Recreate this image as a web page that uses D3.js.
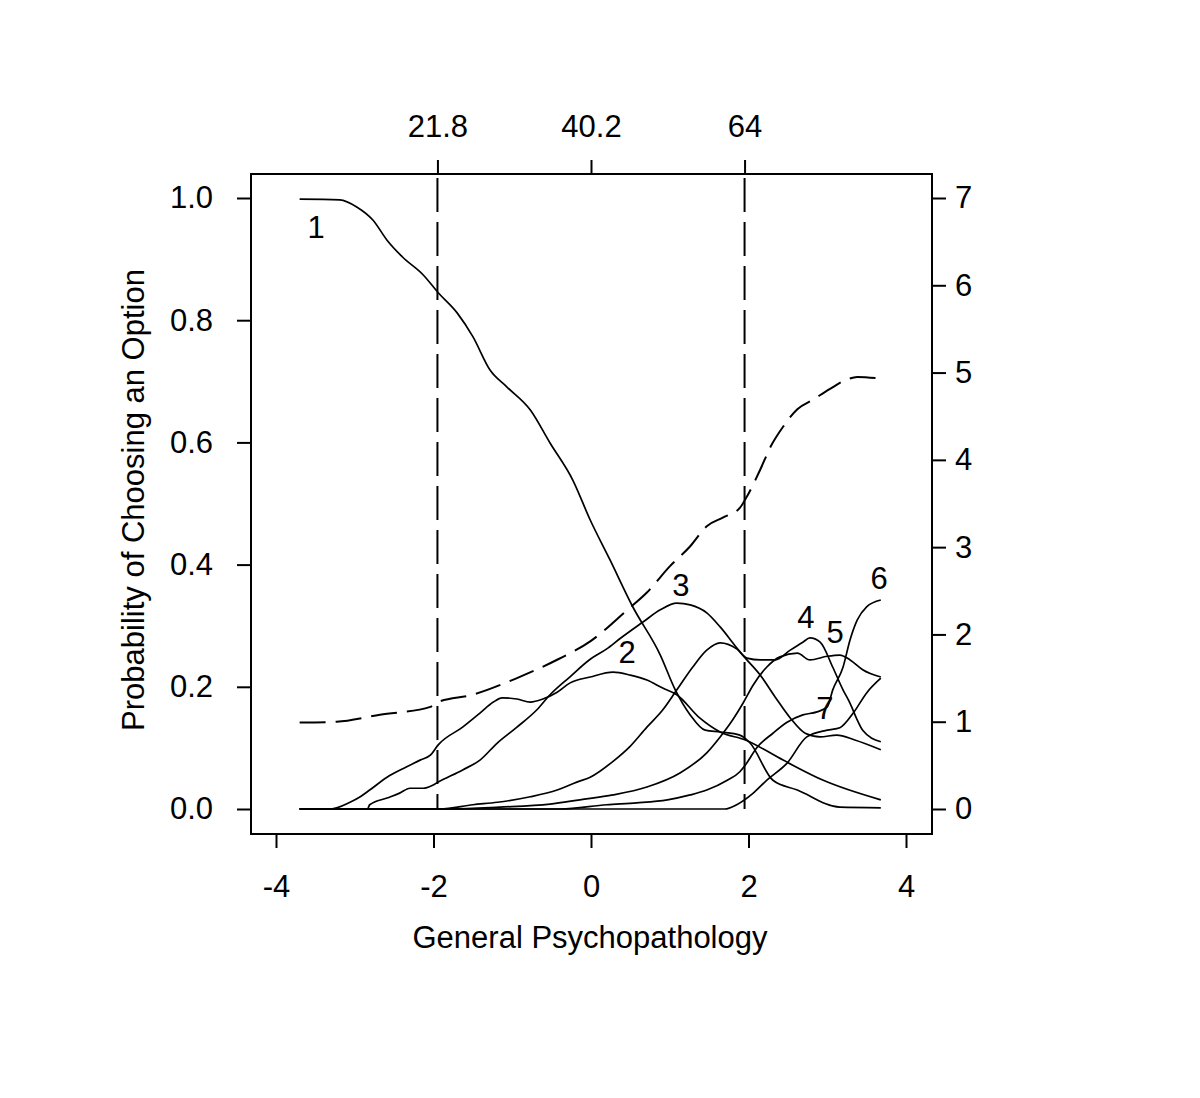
<!DOCTYPE html>
<html>
<head>
<meta charset="utf-8">
<script src="https://cdn.jsdelivr.net/npm/d3@7"></script>
<style>
  body { margin: 0; background: #fff; }
  svg text { font-family: "Liberation Sans", Arial, sans-serif; fill: #000; }
</style>
</head>
<body>
<div id="viz"></div>
<script>
// option characteristic curves, [theta, probability]
var option1 = [[-3.70,0.998],[-3.19,0.997],[-2.97,0.985],[-2.77,0.964],[-2.59,0.931],[-2.39,0.903],[-2.13,0.874],[-1.94,0.845],[-1.70,0.812],[-1.50,0.773],[-1.28,0.718],[-1.07,0.691],[-0.77,0.653],[-0.52,0.599],[-0.23,0.538],[-0.01,0.473],[0.24,0.408],[0.53,0.331],[0.88,0.252],[1.07,0.195],[1.26,0.154],[1.45,0.129],[1.64,0.126],[1.89,0.121],[2.02,0.108],[2.31,0.047],[2.62,0.031],[3.16,0.003],[3.68,0.002]];
var option2 = [[-3.70,0],[-3.31,0],[-3.06,0.011],[-2.93,0.020],[-2.81,0.031],[-2.59,0.052],[-2.34,0.069],[-2.17,0.080],[-2.04,0.088],[-1.94,0.105],[-1.63,0.134],[-1.41,0.157],[-1.24,0.175],[-1.13,0.182],[-0.94,0.180],[-0.77,0.175],[-0.61,0.180],[-0.43,0.191],[-0.27,0.206],[-0.01,0.216],[0.28,0.224],[0.50,0.219],[0.71,0.211],[0.91,0.198],[1.09,0.187],[1.38,0.149],[1.64,0.126],[1.96,0.113],[2.44,0.080],[2.95,0.047],[3.68,0.015]];
var option3 = [[-3.70,0],[-2.84,0],[-2.81,0.007],[-2.59,0.018],[-2.43,0.026],[-2.30,0.034],[-2.13,0.034],[-2.01,0.039],[-1.94,0.044],[-1.63,0.064],[-1.41,0.080],[-1.19,0.108],[-0.94,0.134],[-0.69,0.162],[-0.52,0.187],[-0.27,0.216],[-0.01,0.245],[0.20,0.262],[0.37,0.279],[0.66,0.306],[0.88,0.326],[1.09,0.337],[1.26,0.334],[1.47,0.321],[1.64,0.298],[1.85,0.264],[1.96,0.247],[2.15,0.219],[2.34,0.183],[2.53,0.149],[2.72,0.124],[2.91,0.118],[3.12,0.121],[3.35,0.113],[3.68,0.097]];
var option4 = [[-3.70,0],[-1.92,0],[-1.50,0.007],[-1.19,0.011],[-0.77,0.020],[-0.43,0.031],[-0.18,0.044],[-0.01,0.052],[0.28,0.078],[0.50,0.103],[0.71,0.134],[0.91,0.162],[1.09,0.195],[1.29,0.232],[1.47,0.260],[1.64,0.272],[1.85,0.262],[1.98,0.247],[2.15,0.244],[2.34,0.244],[2.53,0.260],[2.69,0.273],[2.78,0.280],[2.91,0.273],[3.07,0.232],[3.20,0.195],[3.29,0.173],[3.38,0.146],[3.45,0.129],[3.68,0.110]];
var option5 = [[-3.70,0],[-1.79,0],[-1.16,0.003],[-0.52,0.008],[-0.14,0.015],[0.28,0.023],[0.71,0.036],[1.13,0.059],[1.47,0.092],[1.64,0.118],[1.80,0.146],[1.93,0.173],[2.06,0.203],[2.23,0.232],[2.40,0.249],[2.62,0.255],[2.78,0.244],[3.00,0.250],[3.16,0.252],[3.29,0.244],[3.45,0.228],[3.68,0.216]];
var option6 = [[-3.70,0],[-0.39,0],[0.20,0.007],[0.58,0.010],[0.97,0.015],[1.26,0.023],[1.47,0.031],[1.73,0.047],[1.89,0.061],[1.96,0.072],[2.11,0.101],[2.31,0.124],[2.49,0.142],[2.69,0.154],[2.87,0.159],[3.00,0.167],[3.07,0.195],[3.20,0.232],[3.29,0.277],[3.38,0.309],[3.50,0.331],[3.68,0.342]];
var option7 = [[-3.70,0],[1.70,0],[1.85,0.007],[2.06,0.026],[2.23,0.047],[2.49,0.075],[2.74,0.118],[3.00,0.129],[3.16,0.133],[3.33,0.157],[3.50,0.190],[3.68,0.214]];
var options = [option1, option2, option3, option4, option5, option6, option7];

// expected score (right axis, 0-7)
var expected = [[-3.70,0.99],[-3.23,1.00],[-2.68,1.08],[-2.04,1.17],[-1.96,1.22],[-1.50,1.31],[-0.94,1.50],[-0.43,1.71],[-0.01,1.92],[0.46,2.28],[0.71,2.48],[1.00,2.78],[1.26,3.01],[1.47,3.24],[1.68,3.34],[1.89,3.45],[1.98,3.58],[2.15,3.89],[2.28,4.15],[2.44,4.38],[2.62,4.58],[2.82,4.69],[3.03,4.81],[3.25,4.92],[3.38,4.95],[3.68,4.93]];

// curve labels [theta, prob, text]
var curveLabels = [[-3.49,0.953,"1"],[0.46,0.257,"2"],[1.14,0.367,"3"],[2.73,0.314,"4"],[3.10,0.290,"5"],[3.66,0.378,"6"],[2.97,0.165,"7"]];

var xTicks = [-4, -2, 0, 2, 4];
var yTicks = [0, 0.2, 0.4, 0.6, 0.8, 1.0];
var rightTicks = [0, 1, 2, 3, 4, 5, 6, 7];
var topTicks = [-1.95, 0, 1.95];
var topTickLabels = ["21.8", "40.2", "64"];
var cutLines = [-1.95, 1.95];

var width = 1200, height = 1098;
var box = {left: 251, right: 932, top: 174, bottom: 834};
var tick = 14;
var fontSize = "31px";

var svg = d3.select("#viz").append("svg")
  .attr("width", width)
  .attr("height", height);

var x = d3.scaleLinear().domain([-4, 4]).range([276, 906]);
var y = d3.scaleLinear().domain([0, 1]).range([809, 198]);
var yR = d3.scaleLinear().domain([0, 7]).range([809, 198]);

// plain hyphen for negatives, like the original
function plain(d) { return String(d); }

// bottom axis
svg.append("g")
  .attr("transform", "translate(0," + box.bottom + ")")
  .call(d3.axisBottom(x).tickValues(xTicks).tickSize(tick).tickPadding(27).tickFormat(plain))
  .call(function(g) { g.select(".domain").remove(); });

// left axis
svg.append("g")
  .attr("transform", "translate(" + box.left + ",0)")
  .call(d3.axisLeft(y).tickValues(yTicks).tickSize(tick).tickPadding(24).tickFormat(d3.format(".1f")))
  .call(function(g) { g.select(".domain").remove(); });

// right axis
svg.append("g")
  .attr("transform", "translate(" + box.right + ",0)")
  .call(d3.axisRight(yR).tickValues(rightTicks).tickSize(tick).tickPadding(9).tickFormat(plain))
  .call(function(g) { g.select(".domain").remove(); });

// top axis (raw score)
svg.append("g")
  .attr("transform", "translate(0," + box.top + ")")
  .call(d3.axisTop(x).tickValues(topTicks).tickSize(tick).tickPadding(23)
    .tickFormat(function(d, i) { return topTickLabels[i]; }))
  .call(function(g) { g.select(".domain").remove(); });

svg.selectAll(".tick line").attr("stroke", "#000").attr("stroke-width", 2);
svg.selectAll(".tick text").style("font-size", fontSize);

// box
svg.append("rect")
  .attr("x", box.left).attr("y", box.top)
  .attr("width", box.right - box.left).attr("height", box.bottom - box.top)
  .attr("fill", "none").attr("stroke", "#000").attr("stroke-width", 2);

// vertical dashed cut lines
svg.selectAll(".cut")
  .data(cutLines)
  .enter().append("line")
  .attr("class", "cut")
  .attr("x1", function(d) { return x(d); })
  .attr("x2", function(d) { return x(d); })
  .attr("y1", box.top + 4)
  .attr("y2", y(0))
  .attr("stroke", "#000").attr("stroke-width", 2)
  .attr("stroke-dasharray", "34,10");

var line = d3.line()
  .x(function(d) { return x(d[0]); })
  .y(function(d) { return y(d[1]); })
  .curve(d3.curveMonotoneX);

svg.selectAll(".opt")
  .data(options)
  .enter().append("path")
  .attr("class", "opt")
  .attr("d", line)
  .attr("fill", "none")
  .attr("stroke", "#000")
  .attr("stroke-width", 1.7);

var lineR = d3.line()
  .x(function(d) { return x(d[0]); })
  .y(function(d) { return yR(d[1]); })
  .curve(d3.curveMonotoneX);

svg.append("path")
  .datum(expected)
  .attr("d", lineR)
  .attr("fill", "none")
  .attr("stroke", "#000")
  .attr("stroke-width", 2)
  .attr("stroke-dasharray", "26,10");

// curve numbers
svg.selectAll(".lab")
  .data(curveLabels)
  .enter().append("text")
  .attr("class", "lab")
  .attr("x", function(d) { return x(d[0]); })
  .attr("y", function(d) { return y(d[1]); })
  .attr("text-anchor", "middle")
  .attr("dy", "0.36em")
  .style("font-size", fontSize)
  .text(function(d) { return d[2]; });

// axis titles
svg.append("text")
  .attr("x", (x(-4) + x(4)) / 2 - 1)
  .attr("y", 948)
  .attr("text-anchor", "middle")
  .style("font-size", fontSize)
  .text("General Psychopathology");

svg.append("text")
  .attr("transform", "translate(144,500) rotate(-90)")
  .attr("text-anchor", "middle")
  .style("font-size", fontSize)
  .text("Probability of Choosing an Option");
</script>
</body>
</html>
